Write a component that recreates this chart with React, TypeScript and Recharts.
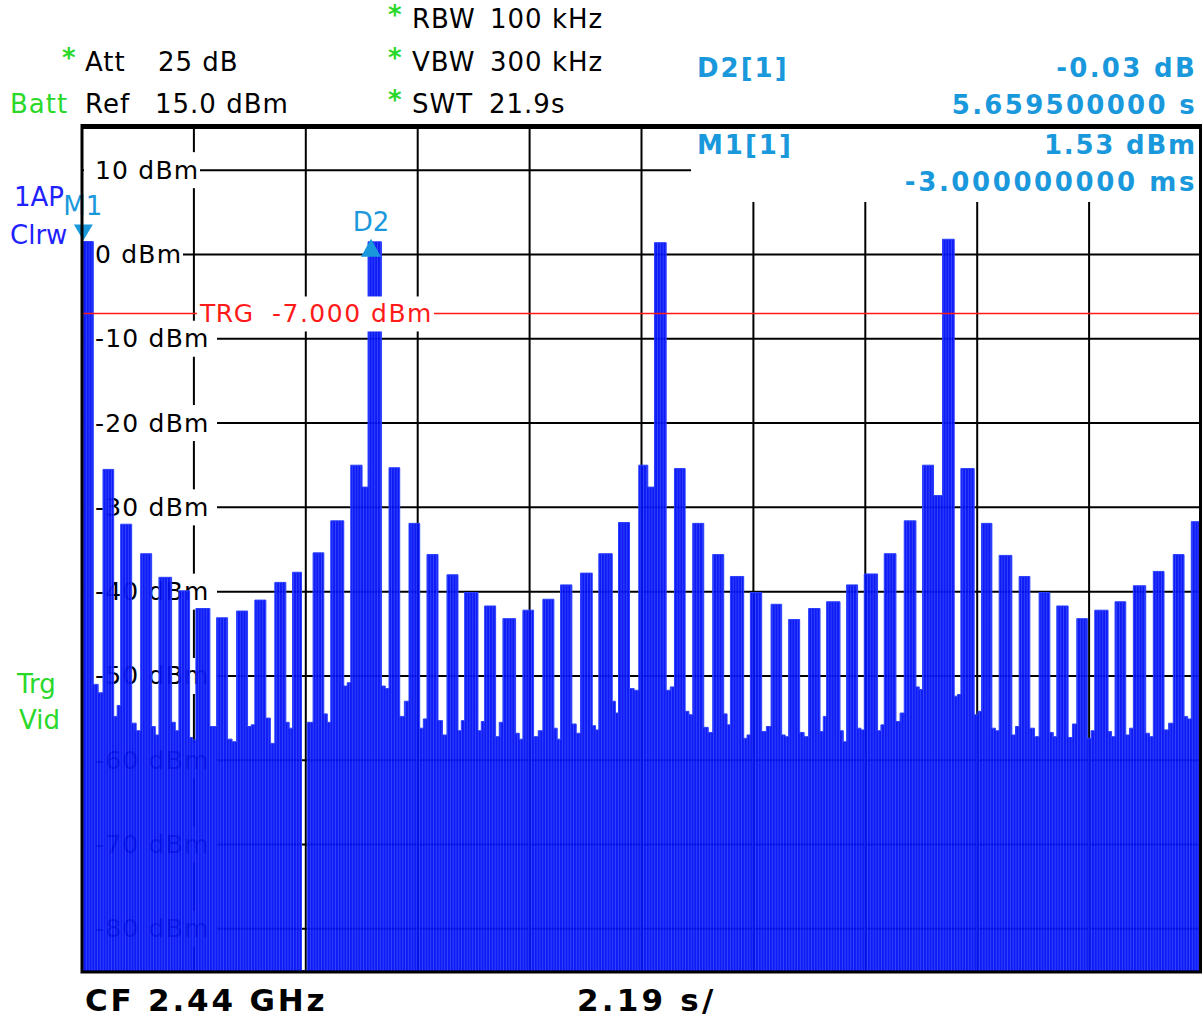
import {
  ComposedChart,
  Area,
  XAxis,
  YAxis,
  CartesianGrid,
  ReferenceLine,
  ReferenceDot,
} from "recharts";

const FONT = "'DejaVu Sans', Verdana, sans-serif";
const MARKER_BLUE = "#1a98dc";
const TRACE_BLUE = "#000cf4";
const GREEN = "#2ad82a";

const PLOT_LEFT = 82;
const MARGIN = { top: 128, right: 3, bottom: 50, left: PLOT_LEFT };

// sweep: 10 divisions of 2.19 s
const timeTicks = [0, 2.19, 4.38, 6.57, 8.76, 10.95, 13.14, 15.33, 17.52, 19.71, 21.9];
const levelTicks = [10, 0, -10, -20, -30, -40, -50, -60, -70, -80];

// start / end of each burst (s) and its level (dBm)
const pulseStart = [
  0.0, 0.411, 0.757, 1.148, 1.506, 1.897, 2.229, 2.634, 3.025, 3.383, 3.774, 4.12, 4.523, 4.869, 5.26,
  5.598, 6.009, 6.4, 6.752, 7.143, 7.489, 7.88, 8.238, 8.629, 9.02, 9.366, 9.757, 10.115, 10.5, 10.897,
  11.204, 11.595, 11.953, 12.344, 12.69, 13.081, 13.486, 13.83, 14.221, 14.573, 14.964, 15.31, 15.701,
  16.092, 16.45, 16.841, 17.201, 17.604, 17.95, 18.341, 18.732, 19.078, 19.469, 19.821, 20.218, 20.576,
  20.967, 21.358, 21.71,
];
const pulseEnd = [
  0.221, 0.62, 0.972, 1.363, 1.754, 2.106, 2.503, 2.849, 3.24, 3.598, 3.989, 4.296, 4.732, 5.123, 5.481,
  5.86, 6.218, 6.609, 6.967, 7.358, 7.749, 8.095, 8.486, 8.838, 9.235, 9.587, 9.986, 10.377, 10.715,
  11.073, 11.433, 11.804, 12.168, 12.559, 12.95, 13.302, 13.693, 14.045, 14.444, 14.835, 15.179, 15.57,
  15.93, 16.321, 16.665, 17.07, 17.461, 17.807, 18.198, 18.55, 18.941, 19.299, 19.676, 20.081, 20.427,
  20.818, 21.176, 21.568, 21.9,
];
const pulseTop = [
  1.53, -25.5, -32.0, -35.5, -38.3, -39.9, -42.0, -43.1, -42.3, -41.0, -38.9, -37.7, -35.4, -31.6, -25.0,
  1.5, -25.3, -31.9, -35.6, -38.0, -40.1, -41.7, -43.2, -42.2, -40.9, -39.2, -37.8, -35.5, -31.8, -25.0,
  1.4, -25.4, -31.9, -35.6, -38.2, -40.1, -41.5, -43.3, -42.0, -41.2, -39.2, -37.9, -35.5, -31.6, -25.0,
  1.8, -25.4, -31.9, -35.7, -38.2, -40.1, -41.7, -43.2, -42.2, -41.2, -39.3, -37.6, -35.6, -31.7,
];
// level between bursts: first half / second half of each gap (dBm)
const gapLevelA = [
  -51.0, -54.8, -55.6, -56.0, -55.5, -57.3, -56.0, -57.5, -56.0, -55.0, -55.5, -85.0, -54.5, -51.2,
  -27.6, -51.2, -54.8, -56.2, -55.3, -56.5, -56.5, -57.2, -56.8, -57.2, -56.2, -55.7, -55.9, -53.0,
  -51.5, -27.6, -51.7, -54.2, -56.1, -54.5, -57.4, -56.6, -57.0, -56.7, -56.6, -56.5, -56.2, -56.5,
  -55.4, -51.3, -28.6, -52.4, -54.6, -56.2, -57.0, -56.2, -56.7, -57.3, -57.4, -56.6, -57.0, -56.8,
  -56.4, -54.8,
];
const gapLevelB = [
  -52.0, -53.5, -56.5, -57.0, -56.5, -57.6, -56.0, -57.8, -55.8, -58.0, -56.2, -55.5, -55.5, -50.8,
  -27.6, -51.5, -53.0, -55.1, -57.0, -55.3, -55.4, -55.5, -57.5, -56.5, -57.5, -56.8, -56.4, -54.4,
  -51.7, -27.6, -51.3, -54.6, -56.7, -55.8, -57.0, -56.0, -57.2, -57.2, -54.8, -57.8, -56.4, -55.8,
  -54.4, -51.6, -28.6, -52.2, -54.2, -56.5, -56.0, -57.2, -57.2, -55.7, -56.5, -57.2, -56.2, -57.2,
  -55.6, -55.1,
];

// markers
const M1_TIME = -0.003;
const M1_LEVEL = 1.53;
const D2_TIME = 5.6565;
const D2_LEVEL = 1.5;
const TRG_LEVEL = -7;

// step trace built from the bursts
const trace: { t: number; level: number }[] = [];
pulseStart.forEach((start, i) => {
  trace.push({ t: start, level: pulseTop[i] });
  if (i < pulseStart.length - 1) {
    const end = pulseEnd[i];
    trace.push({ t: end, level: gapLevelA[i] });
    trace.push({ t: (end + pulseStart[i + 1]) / 2, level: gapLevelB[i] });
  } else {
    trace.push({ t: pulseEnd[i], level: pulseTop[i] });
  }
});

function LevelTick({ y, payload }: any) {
  const label = `${payload.value} dBm`;
  const w = 14 + label.length * 17;
  return (
    <g>
      <rect x={PLOT_LEFT + 2} y={y - 18} width={w} height={36} fill="#fff" />
      <text x={PLOT_LEFT + 13} y={y} dominantBaseline="central" fontSize={25} fill="#000" fontFamily={FONT} letterSpacing={1.2}>
        {label}
      </text>
    </g>
  );
}

function TrgLabel({ viewBox }: any) {
  const y = viewBox?.y ?? 0;
  return (
    <g>
      <rect x={197} y={y - 17} width={237} height={35} fill="#fff" />
      <text x={200} y={y} dominantBaseline="central" fontSize={25} fill="#ff1a1a" fontFamily={FONT} letterSpacing={0.5}>TRG</text>
      <text x={272} y={y} dominantBaseline="central" fontSize={25} fill="#ff1a1a" fontFamily={FONT} letterSpacing={1.5}>-7.000 dBm</text>
    </g>
  );
}

function M1Shape({ cx, cy }: any) {
  return (
    <g>
      <polygon points={`${cx - 8},${cy - 17} ${cx + 11},${cy - 17} ${cx + 1.5},${cy - 1}`} fill={MARKER_BLUE} />
      <text x={cx + 1} y={cy - 36} textAnchor="middle" dominantBaseline="central" fontSize={26} fill={MARKER_BLUE} fontFamily={FONT}>M1</text>
    </g>
  );
}

function D2Shape({ cx, cy }: any) {
  return (
    <g>
      <polygon points={`${cx - 10},${cy + 15} ${cx + 10},${cy + 15} ${cx},${cy - 3}`} fill={MARKER_BLUE} />
      <text x={cx} y={cy - 20} textAnchor="middle" dominantBaseline="central" fontSize={26} fill={MARKER_BLUE} fontFamily={FONT}>D2</text>
    </g>
  );
}

function Txt({ x, y, children, fill = "#000", size = 26, bold = false, anchor = "start", ls = 1 }: any) {
  return (
    <text x={x} y={y} dominantBaseline="central" textAnchor={anchor} fontSize={size} fontWeight={bold ? "bold" : "normal"} fill={fill} fontFamily={FONT} letterSpacing={ls}>
      {children}
    </text>
  );
}

const layer: React.CSSProperties = { position: "absolute", left: 0, top: 0 };

export default function App() {
  return (
    <div style={{ position: "absolute", left: 0, top: 0, width: 1204, height: 1021, background: "#fff", overflow: "hidden" }}>
      {/* grid and level labels */}
      <div style={layer}>
        <ComposedChart width={1204} height={1021} data={trace} margin={MARGIN}>
          <CartesianGrid stroke="#000" strokeWidth={2} />
          <XAxis type="number" dataKey="t" domain={[0, 21.9]} ticks={timeTicks} hide allowDataOverflow />
          <YAxis
            type="number"
            domain={[-85, 15]}
            ticks={levelTicks}
            mirror
            width={60}
            axisLine={false}
            tickLine={false}
            tick={(p: any) => <LevelTick {...p} />}
            allowDataOverflow
            interval={0}
          />
        </ComposedChart>
      </div>

      {/* trace, trigger line and markers */}
      <div style={layer}>
        <ComposedChart width={1204} height={1021} data={trace} margin={MARGIN}>
          <defs>
            <pattern id="traceStripes" patternUnits="userSpaceOnUse" width={2.8} height={10}>
              <rect width={2.8} height={10} fill={TRACE_BLUE} />
              <rect x={2.2} width={0.6} height={10} fill="#3a52ff" />
            </pattern>
          </defs>
          <XAxis type="number" dataKey="t" domain={[0, 21.9]} hide allowDataOverflow />
          <YAxis type="number" domain={[-85, 15]} hide allowDataOverflow />
          <Area
            type="stepAfter"
            dataKey="level"
            baseValue={-85}
            fill="url(#traceStripes)"
            fillOpacity={0.94}
            stroke="#2a40ff"
            strokeWidth={1}
            dot={false}
            activeDot={false}
            isAnimationActive={false}
          />
          <ReferenceLine y={TRG_LEVEL} stroke="#ff1a1a" strokeWidth={1.5} label={<TrgLabel />} />
          <ReferenceDot x={M1_TIME} y={M1_LEVEL} ifOverflow="visible" shape={(p: any) => <M1Shape {...p} />} />
          <ReferenceDot x={D2_TIME} y={D2_LEVEL} ifOverflow="visible" shape={(p: any) => <D2Shape {...p} />} />
        </ComposedChart>
      </div>

      <svg width={1204} height={1021} style={{ ...layer, pointerEvents: "none" }}>
        {/* marker readout box */}
        <rect x={691} y={129} width={508} height={73} fill="#fff" />
        <rect x={82} y={125.5} width={1118.5} height={846.5} fill="none" stroke="#000" strokeWidth={3} />

        <Txt x={62} y={58} fill={GREEN} bold>*</Txt>
        <Txt x={85} y={62}>Att</Txt>
        <Txt x={158} y={62}>25 dB</Txt>
        <Txt x={10} y={104} fill={GREEN}>Batt</Txt>
        <Txt x={85} y={104}>Ref</Txt>
        <Txt x={155} y={104}>15.0 dBm</Txt>

        <Txt x={388} y={15} fill={GREEN} bold>*</Txt>
        <Txt x={412} y={19}>RBW</Txt>
        <Txt x={490} y={19}>100 kHz</Txt>
        <Txt x={388} y={58} fill={GREEN} bold>*</Txt>
        <Txt x={412} y={62}>VBW</Txt>
        <Txt x={490} y={62}>300 kHz</Txt>
        <Txt x={388} y={100} fill={GREEN} bold>*</Txt>
        <Txt x={412} y={104}>SWT</Txt>
        <Txt x={489} y={104}>21.9s</Txt>

        <Txt x={697} y={68} fill={MARKER_BLUE} bold ls={2}>D2[1]</Txt>
        <Txt x={1197} y={68} fill={MARKER_BLUE} bold anchor="end" ls={2.3}>-0.03 dB</Txt>
        <Txt x={1197} y={105} fill={MARKER_BLUE} bold anchor="end" ls={2.3}>5.659500000 s</Txt>
        <Txt x={697} y={145} fill={MARKER_BLUE} bold ls={2}>M1[1]</Txt>
        <Txt x={1197} y={145} fill={MARKER_BLUE} bold anchor="end" ls={1.8}>1.53 dBm</Txt>
        <Txt x={1197} y={182} fill={MARKER_BLUE} bold anchor="end" ls={2.6}>-3.000000000 ms</Txt>

        <Txt x={14} y={197} fill="#1e22ff" ls={0}>1AP</Txt>
        <Txt x={10} y={235} fill="#1e22ff" ls={0}>Clrw</Txt>
        <Txt x={17} y={684} fill={GREEN} ls={0}>Trg</Txt>
        <Txt x={19} y={720} fill={GREEN} ls={0}>Vid</Txt>

        <Txt x={85} y={1000} size={31} bold ls={2.8}>CF 2.44 GHz</Txt>
        <Txt x={577} y={1000} size={31} bold ls={3.2}>2.19 s/</Txt>
      </svg>
    </div>
  );
}
